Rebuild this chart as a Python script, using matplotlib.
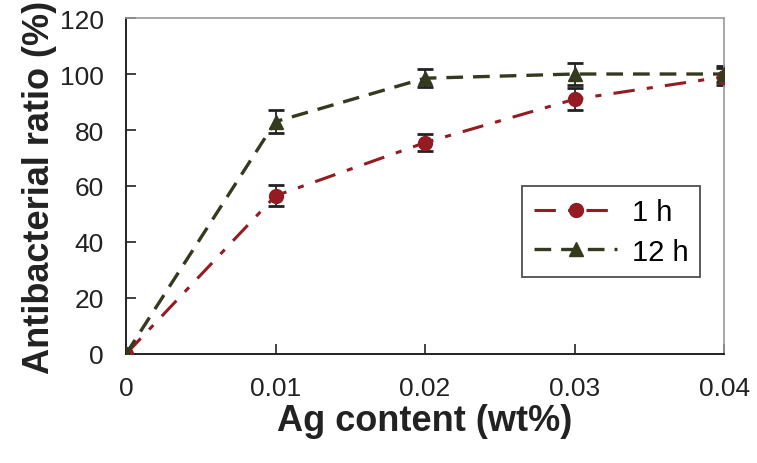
import numpy as np
import matplotlib.pyplot as plt

plt.rcParams['font.family'] = ['Liberation Sans', 'DejaVu Sans']

# data
ag_content = [0, 0.01, 0.02, 0.03, 0.04]
ratio_1h = [0, 56.5, 75.5, 91, 99]
err_1h = [0, 3.7, 3, 4, 3]
ratio_12h = [0, 83, 98.5, 100, 100]
err_12h = [0, 4, 3.2, 4, 3]
xticks = [0, 0.01, 0.02, 0.03, 0.04]
xticklabels = ['0', '0.01', '0.02', '0.03', '0.04']
yticks = [0, 20, 40, 60, 80, 100, 120]

red = '#951b22'
green = '#333a1e'

fig = plt.figure(figsize=(7.57, 4.64), dpi=100)
ax = fig.add_axes([0.1665, 0.235, 0.79, 0.724])

# error bars first, lines + markers on top
ax.errorbar(ag_content, ratio_1h, yerr=err_1h, fmt='none', ecolor='#222222',
            elinewidth=1.3, capsize=6, capthick=2, zorder=2)
ax.errorbar(ag_content, ratio_12h, yerr=err_12h, fmt='none', ecolor='#222222',
            elinewidth=1.3, capsize=6, capthick=2, zorder=2)
ax.plot(ag_content, ratio_1h, color=red, linestyle=(0, (7, 4, 2, 4)), linewidth=2.2,
        marker='o', markersize=10, label='1 h', zorder=3)
ax.plot(ag_content, ratio_12h, color=green, linestyle=(0, (5, 3)), linewidth=2.4,
        marker='^', markersize=10, label='12 h', zorder=3)

ax.set_xlim(0, 0.04)
ax.set_ylim(0, 120)
ax.set_xticks(xticks)
ax.set_xticklabels(xticklabels)
ax.set_yticks(yticks)
ax.tick_params(direction='in', length=7, width=1.2, labelsize=19, colors='#222222')
ax.tick_params(axis='x', pad=16)
ax.tick_params(axis='y', pad=16)

for s in ['left', 'bottom']:
    ax.spines[s].set_color('#222222')
    ax.spines[s].set_linewidth(1.4)
for s in ['top', 'right']:
    ax.spines[s].set_color('#999999')
    ax.spines[s].set_linewidth(1.2)

ax.set_xlabel('Ag content (wt%)', fontsize=26, fontweight='bold', color='#222222', labelpad=2)
ax.set_ylabel('Antibacterial ratio (%)', fontsize=26, fontweight='bold', color='#222222', labelpad=2)

leg = ax.legend(loc='lower right', bbox_to_anchor=(0.96, 0.228), fontsize=21, frameon=True,
                fancybox=False, edgecolor='#222222', handlelength=2.85, borderpad=0.4,
                labelspacing=0.4, handletextpad=0.5, borderaxespad=0)
leg.get_frame().set_linewidth(1.3)

plt.savefig('out.png', dpi=100)
